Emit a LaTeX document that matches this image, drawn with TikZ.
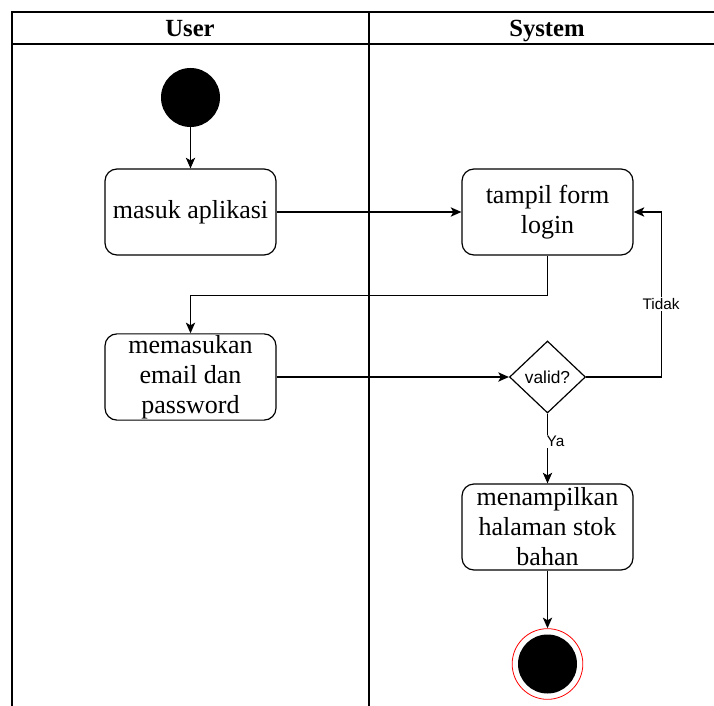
\documentclass[tikz,border=0pt]{standalone}
\usepackage{fontspec}
\setmainfont{Liberation Serif}
\newfontfamily\lblfont{Liberation Sans}
\usetikzlibrary{shapes.geometric,arrows.meta}
\begin{document}
\begin{tikzpicture}[x=0.75pt,y=-0.75pt,
  frame/.style={line width=1.1pt,draw=black},
  act/.style={draw=black,line width=0.9pt,rounded corners=9pt,minimum width=128.25pt,minimum height=64.5pt,align=center,inner sep=1pt,font=\fontsize{19.5}{22.5}\selectfont},
  dec/.style={draw=black,line width=0.9pt,diamond,minimum width=57pt,minimum height=54pt,inner sep=0pt,font=\lblfont\fontsize{13}{15}\selectfont},
  conn/.style={line width=0.9pt,-{Stealth[length=8pt,width=7pt,inset=2pt]}},
  lbl/.style={fill=white,inner sep=1pt,font=\lblfont\fontsize{11.5}{13}\selectfont},
  head/.style={font=\bfseries\fontsize{18.5}{20}\selectfont,text height=13pt,text depth=4pt,inner sep=0pt}]
\useasboundingbox (0,0) rectangle (714,706);
% swimlane frame
\draw[frame] (12,706) -- (12,12) -- (714,12);
\draw[frame] (12,44) -- (714,44);
\draw[frame] (369,12) -- (369,706);
\node[head] (huser) at (190,31) {User};
\node[head] (hsys) at (547,31) {System};
% nodes
\node[circle,fill=black,minimum size=44.25pt,inner sep=0pt] (start) at (190.5,97.5) {};
\node[act] (masuk) at (190.5,212) {masuk aplikasi};
\node[act] (tampil) at (547.5,212) {tampil form\\login};
\node[act] (mem) at (190.5,377) {memasukan\\email dan\\password};
\node[dec] (valid) at (547.5,377) {valid?};
\node[act] (menampil) at (547.5,527) {menampilkan\\halaman stok\\bahan};
\node[circle,draw=red,line width=0.6pt,minimum size=53pt,inner sep=0pt] (endo) at (547.5,664) {};
\node[circle,fill=black,minimum size=44.25pt,inner sep=0pt] (endi) at (547.5,664) {};
% connectors
\draw[conn] (start) -- (masuk);
\draw[conn] (masuk) -- (tampil);
\draw[conn] (tampil.south) -- ++(0,40) -| (mem.north);
\draw[conn] (mem) -- (valid);
\draw[conn] (valid.east) -- ++(75,0) |- node[lbl,pos=0.22] {Tidak} (tampil.east);
\draw[conn] (valid.south) -- node[lbl,pos=0.4,xshift=6pt] {Ya} (menampil.north);
\draw[conn] (menampil.south) -- (endo.north);
\end{tikzpicture}
\end{document}
